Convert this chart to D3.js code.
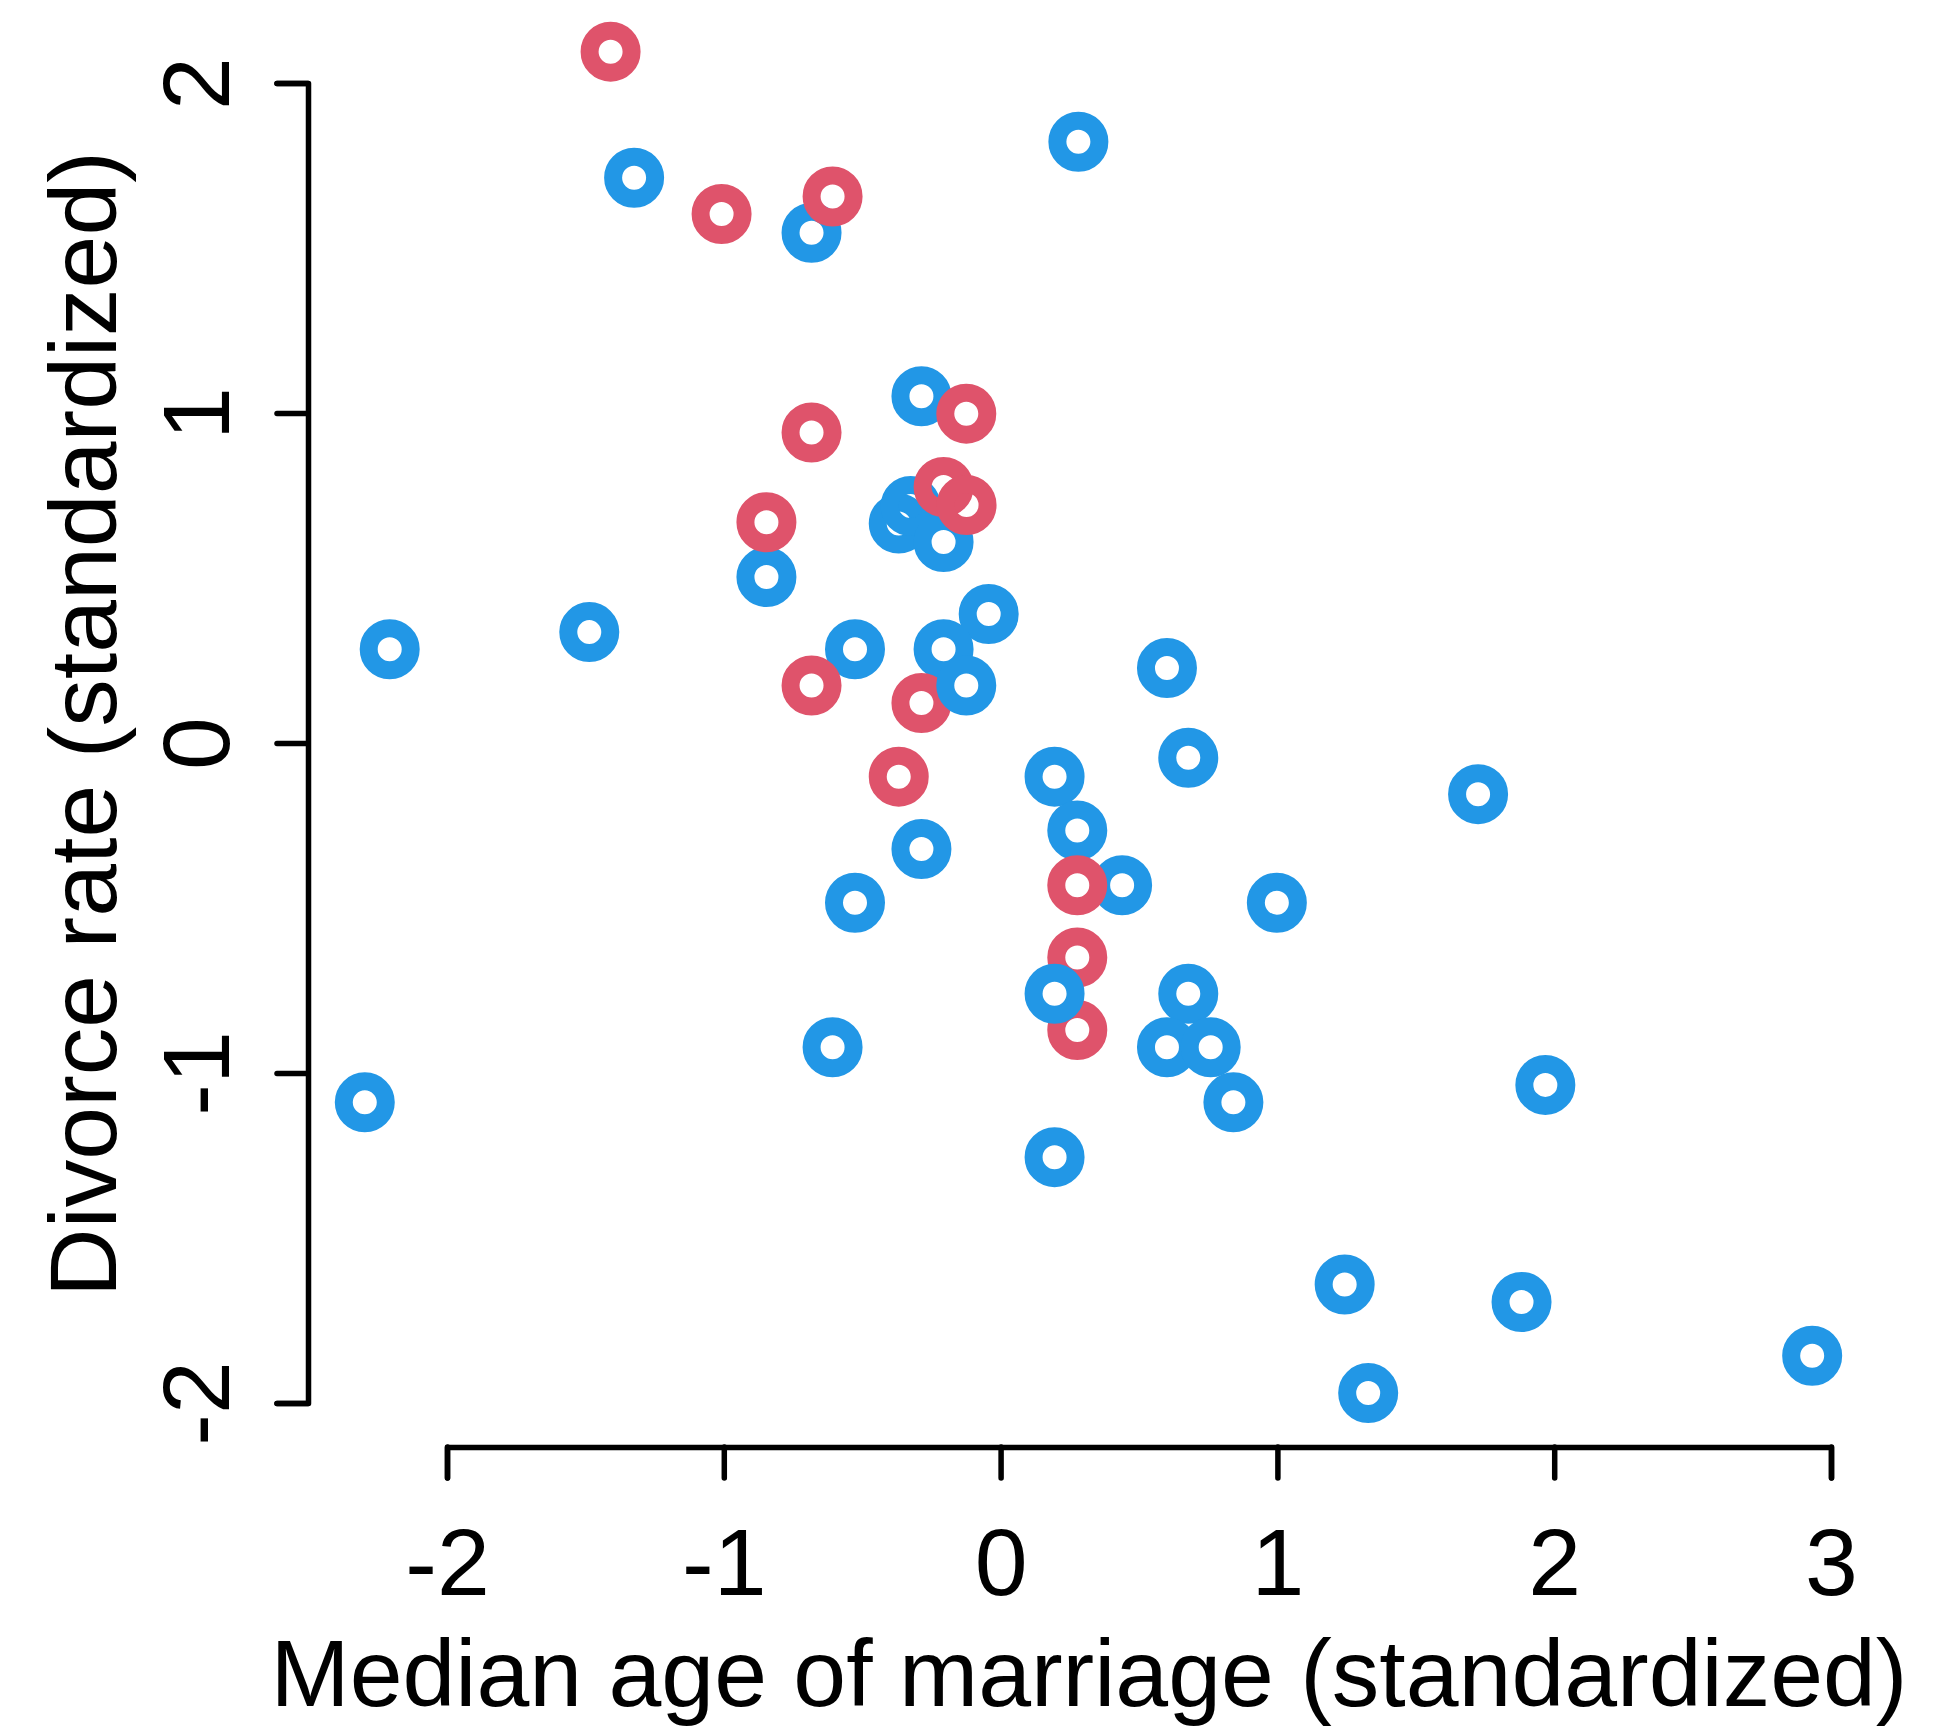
<!DOCTYPE html>
<html>
<head>
<meta charset="utf-8">
<script src="https://cdn.jsdelivr.net/npm/d3@7"></script>
<style>
  html, body { margin: 0; padding: 0; background: #fff; }
  svg { display: block; }
  text { font-family: "Liberation Sans", Arial, Helvetica, sans-serif; fill: #000; }
</style>
</head>
<body>
<svg id="chart" width="1957" height="1727"></svg>
<script>
// ---- data ----
const xTicks = [-2, -1, 0, 1, 2, 3];
const yTicks = [-2, -1, 0, 1, 2];
const xLabel = "Median age of marriage (standardized)";
const yLabel = "Divorce rate (standardized)";

// non-South states (blue)
const blueAge = [-1.324, -0.683, 0.281, -0.286, -0.368, -0.325, -0.206, -0.846, -1.486, -2.207,
                 -0.526, -0.043, -0.206, 0.601, 0.678, 0.195, 0.277, 1.725, -0.286, -0.526,
                 0.439, 0.998, 0.678, -0.607, 0.601, 0.759, 0.841, 1.968, -2.297, 0.195,
                 1.243, 1.882, 1.328, 2.932];
const blueDivorce = [1.713, 1.546, 1.822, 1.051, 0.665, 0.718, 0.609, 0.503, 0.336, 0.284,
                     0.284, 0.391, 0.284, 0.227, -0.045, -0.102, -0.265, -0.155, -0.321, -0.484,
                     -0.431, -0.484, -0.760, -0.922, -0.922, -0.922, -1.089, -1.036, -1.089, -1.255,
                     -1.641, -1.694, -1.970, -1.857];

// South states (red)
const redAge = [-1.409, -1.008, -0.607, -0.683, -0.124, -0.846, -0.206, -0.123, -0.683, -0.286,
                -0.368, 0.277, 0.277, 0.277];
const redDivorce = [2.095, 1.603, 1.656, 0.941, 0.998, 0.669, 0.776, 0.721, 0.174, 0.121,
                    -0.102, -0.431, -0.650, -0.870];

// blue points drawn last (on top of the red ones)
const topBlueAge = [-0.124, 0.195];
const topBlueDivorce = [0.174, -0.760];

const blueColor = "#2297E6";
const redColor = "#DF536B";

// ---- layout ----
const svg = d3.select("#chart");
const x = d3.scaleLinear().domain([-2, 3]).range([447, 1831]);
const y = d3.scaleLinear().domain([-2, 2]).range([1403, 83]);
const xAxisY = 1447;
const yAxisX = 308;
const fontSize = 95;
const lw = 5.5;

// x axis
const gx = svg.append("g")
  .attr("transform", `translate(0,${xAxisY})`)
  .call(d3.axisBottom(x).tickValues(xTicks).tickSize(31).tickSizeOuter(31).tickFormat(d3.format("d")));
gx.select(".domain").attr("stroke", "#000").attr("stroke-width", lw)
  .attr("stroke-linecap", "round").attr("stroke-linejoin", "round").attr("fill", "none");
gx.selectAll(".tick line").attr("stroke", "#000").attr("stroke-width", lw).attr("stroke-linecap", "round");
gx.selectAll(".tick text")
  .attr("y", 148).attr("dy", 0)
  .attr("font-size", fontSize)
  .attr("font-family", "Liberation Sans, Arial, Helvetica, sans-serif")
  .attr("fill", "#000")
  .text(d => d < 0 ? "-" + Math.abs(d) : String(d));

// y axis
const gy = svg.append("g")
  .attr("transform", `translate(${yAxisX},0)`)
  .call(d3.axisLeft(y).tickValues(yTicks).tickSize(31).tickSizeOuter(31).tickFormat(d3.format("d")));
gy.select(".domain").attr("stroke", "#000").attr("stroke-width", lw)
  .attr("stroke-linecap", "round").attr("stroke-linejoin", "round").attr("fill", "none");
gy.selectAll(".tick line").attr("stroke", "#000").attr("stroke-width", lw).attr("stroke-linecap", "round");
gy.selectAll(".tick text")
  .attr("x", 0).attr("y", 0).attr("dy", 0).attr("dx", 0)
  .attr("text-anchor", "middle")
  .attr("transform", "translate(-79,0) rotate(-90)")
  .attr("font-size", fontSize)
  .attr("font-family", "Liberation Sans, Arial, Helvetica, sans-serif")
  .attr("fill", "#000")
  .text(d => d < 0 ? "-" + Math.abs(d) : String(d));

// axis titles
svg.append("text")
  .attr("x", 1089).attr("y", 1706)
  .attr("text-anchor", "middle")
  .attr("font-size", fontSize)
  .text(xLabel);

svg.append("text")
  .attr("transform", "translate(116,724) rotate(-90)")
  .attr("text-anchor", "middle")
  .attr("font-size", fontSize)
  .text(yLabel);

// points
function drawPoints(ages, divs, color) {
  svg.append("g").selectAll("circle")
    .data(ages.map((a, i) => [a, divs[i]]))
    .join("circle")
    .attr("cx", d => x(d[0]))
    .attr("cy", d => y(d[1]))
    .attr("r", 21)
    .attr("fill", "none")
    .attr("stroke", color)
    .attr("stroke-width", 18);
}
drawPoints(blueAge, blueDivorce, blueColor);
drawPoints(redAge, redDivorce, redColor);
drawPoints(topBlueAge, topBlueDivorce, blueColor);
</script>
</body>
</html>
